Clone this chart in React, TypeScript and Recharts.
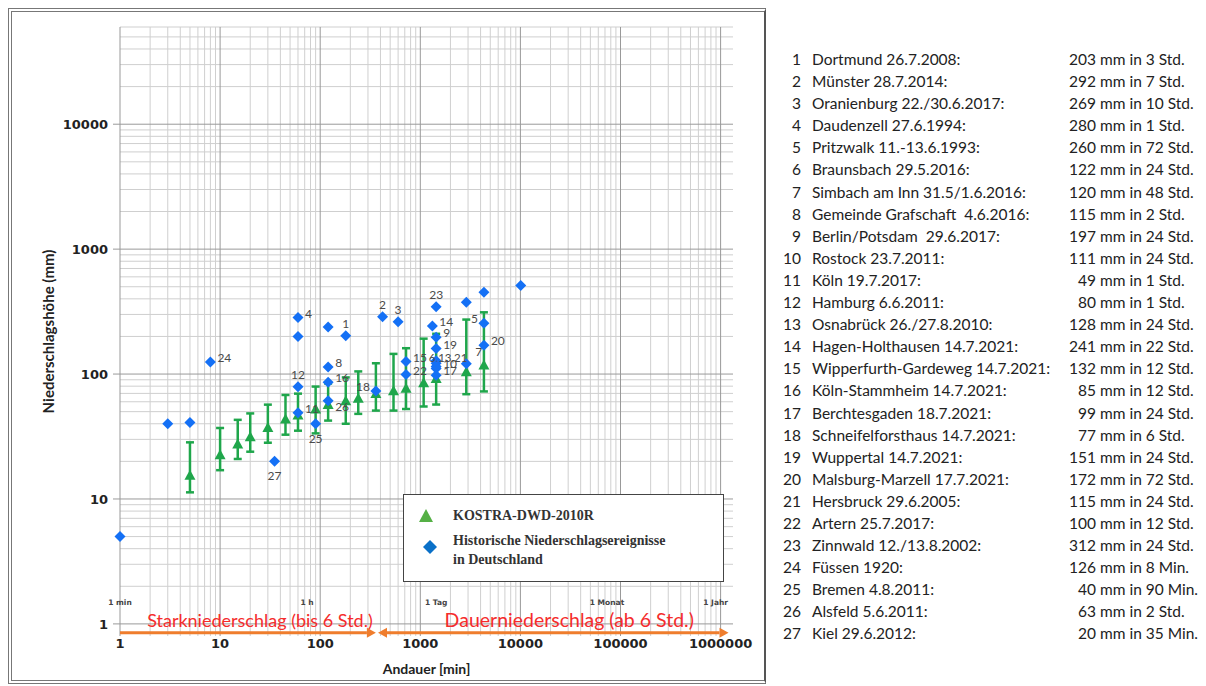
import React from "react";
import {
  ScatterChart,
  Scatter,
  XAxis,
  YAxis,
  CartesianGrid,
  ErrorBar,
  ReferenceLine,
  Legend,
} from "recharts";

// KOSTRA-DWD-2010R: Andauer (min), Niederschlagshöhe (mm) with range
const kostraDuration = [5, 10, 15, 20, 30, 45, 60, 90, 120, 180, 240, 360, 540, 720, 1080, 1440, 2880, 4320];
const kostraValue = [15.5, 22.6, 27.5, 31.5, 37.4, 43.7, 47, 52.5, 57, 61, 64, 70, 73.6, 77, 85, 92, 104.5, 118];
const kostraLow = [11.3, 17, 20.9, 23.9, 28.2, 32.7, 35.2, 33.5, 42.4, 40, 48, 51, 51, 52.5, 55, 57, 69, 72.6];
const kostraHigh = [28.4, 37, 43, 48.4, 56.9, 68, 69.7, 79.4, 84, 94, 105, 122, 145, 161, 192, 210, 273, 312];

// historic events as plotted (numbered 1..27)
const eventNo = [1, 2, 3, 4, 5, 6, 7, 8, 9, 10, 11, 12, 13, 14, 15, 16, 17, 18, 19, 20, 21, 22, 23, 24, 25, 26, 27];
const eventDuration = [180, 420, 600, 60, 4320, 1440, 2880, 120, 1440, 1440, 60, 60, 1440, 1320, 720, 120, 1440, 360, 1440, 4320, 1440, 720, 1440, 8, 90, 120, 35];
const eventValue = [203, 288, 262, 283, 255, 122, 121, 114, 197, 111, 49, 79, 128, 243, 126, 86, 98, 73, 160, 170, 115, 99, 345, 125, 40, 61, 20];

// unnumbered diamonds
const extraDuration = [1, 3, 5, 60, 120, 2880, 4320, 10080];
const extraValue = [5, 40, 41, 200, 238, 376, 452, 511];

// list on the right
const listName = [
  "Dortmund 26.7.2008:",
  "Münster 28.7.2014:",
  "Oranienburg 22./30.6.2017:",
  "Daudenzell 27.6.1994:",
  "Pritzwalk 11.-13.6.1993:",
  "Braunsbach 29.5.2016:",
  "Simbach am Inn 31.5/1.6.2016:",
  "Gemeinde Grafschaft  4.6.2016:",
  "Berlin/Potsdam  29.6.2017:",
  "Rostock 23.7.2011:",
  "Köln 19.7.2017:",
  "Hamburg 6.6.2011:",
  "Osnabrück 26./27.8.2010:",
  "Hagen-Holthausen 14.7.2021:",
  "Wipperfurth-Gardeweg 14.7.2021:",
  "Köln-Stammheim 14.7.2021:",
  "Berchtesgaden 18.7.2021:",
  "Schneifelforsthaus 14.7.2021:",
  "Wuppertal 14.7.2021:",
  "Malsburg-Marzell 17.7.2021:",
  "Hersbruck 29.6.2005:",
  "Artern 25.7.2017:",
  "Zinnwald 12./13.8.2002:",
  "Füssen 1920:",
  "Bremen 4.8.2011:",
  "Alsfeld 5.6.2011:",
  "Kiel 29.6.2012:",
];
const listAmount = [203, 292, 269, 280, 260, 122, 120, 115, 197, 111, 49, 80, 128, 241, 132, 85, 99, 77, 151, 172, 115, 100, 312, 126, 40, 63, 20];
const listSpan = [
  "3 Std.", "7 Std.", "10 Std.", "1 Std.", "72 Std.", "24 Std.", "48 Std.", "2 Std.", "24 Std.",
  "24 Std.", "1 Std.", "1 Std.", "24 Std.", "22 Std.", "12 Std.", "12 Std.", "24 Std.", "6 Std.",
  "24 Std.", "72 Std.", "24 Std.", "12 Std.", "24 Std.", "8 Min.", "90 Min.", "2 Std.", "35 Min.",
];

const xTicks = [1, 10, 100, 1000, 10000, 100000, 1000000];
const yTicks = [1, 10, 100, 1000, 10000];
const timeMarkDuration = [1, 60, 1440, 43200, 525600];
const timeMarkLabel = ["1 min", "1 h", "1 Tag", "1 Monat", "1 Jahr"];
const timeMarkShift = [0, 9, 0, 23, 23];

const GREEN = "#1fa64b";
const BLUE = "#1470f5";
const ORANGE = "#ef7d2d";
const RED = "#f52c2c";
const SANS = "Lato, 'Liberation Sans', sans-serif";
const BOLD_AXIS = "'DejaVu Sans', sans-serif";

// minor log grid (2..9 of every decade)
const minorValues = (from: number, to: number) => {
  const out: number[] = [];
  for (let e = from; e <= to; e++) {
    for (let m = 2; m <= 9; m++) out.push(m * Math.pow(10, e));
  }
  return out;
};
const xMinor = minorValues(0, 5).filter((v) => v < 1330000);
const yMinor = minorValues(0, 4).filter((v) => v <= 60000);

const kostraData = kostraDuration.map((d, i) => ({
  d,
  v: kostraValue[i],
  err: [kostraValue[i] - kostraLow[i], kostraHigh[i] - kostraValue[i]],
}));
const eventData = eventNo.map((n, i) => ({ d: eventDuration[i], v: eventValue[i], n }));
const extraData = extraDuration.map((d, i) => ({ d, v: extraValue[i], n: 0 }));
const timeMarkData = timeMarkDuration.map((d, i) => ({ d, v: 1.42, text: timeMarkLabel[i], shift: timeMarkShift[i] }));

// where the number sits relative to its diamond
const labelSide: Record<number, string> = {
  1: "top", 2: "top", 3: "top", 12: "top", 23: "top",
  25: "bottom", 27: "bottom",
  5: "left", 18: "left",
  26: "lowright", 7: "upright",
  6: "none", 21: "none", 13: "merged",
};

function Triangle(props: any) {
  const { cx, cy } = props;
  return (
    <polygon
      points={`${cx},${cy - 5.5} ${cx + 5.5},${cy + 4.5} ${cx - 5.5},${cy + 4.5}`}
      fill={GREEN}
    />
  );
}

function Diamond(props: any) {
  const { cx, cy, payload } = props;
  const r = 5.5;
  const n = payload.n;
  let label: React.ReactNode = null;
  if (n) {
    const side = labelSide[n] || "right";
    const common = { fontSize: 12, fill: "#4a4a4a", fontFamily: SANS };
    if (side === "top") label = <text x={cx} y={cy - 8} textAnchor="middle" {...common}>{n}</text>;
    else if (side === "bottom") label = <text x={cx} y={cy + 19} textAnchor="middle" {...common}>{n}</text>;
    else if (side === "left") label = <text x={cx - 6} y={cy} textAnchor="end" {...common}>{n}</text>;
    else if (side === "lowright") label = <text x={cx + 7} y={cy + 10} {...common}>{n}</text>;
    else if (side === "upright") label = <text x={cx + 9} y={cy - 8} {...common}>{n}</text>;
    else if (side === "merged")
      label = (
        <text x={cx + 12} y={cy + 1} textAnchor="middle" {...common} fontSize={11.5}>
          6,13,21
        </text>
      );
    else if (side === "right") label = <text x={cx + 7} y={cy} {...common}>{n}</text>;
  }
  return (
    <g>
      <polygon points={`${cx},${cy - r} ${cx + r},${cy} ${cx},${cy + r} ${cx - r},${cy}`} fill={BLUE} />
      {label}
    </g>
  );
}

function TimeMark(props: any) {
  const { cx, cy, payload } = props;
  return (
    <text x={cx + payload.shift} y={cy} textAnchor="middle" fontSize={7.5} fontWeight="bold" fill="#444" fontFamily={BOLD_AXIS}>
      {payload.text}
    </text>
  );
}

function arrowShape(text: string, textDx: number, headLeft: boolean, fontSize: number) {
  return (p: any) => {
    const { x1, x2, y1 } = p;
    const h = 9;
    const w = 5;
    const left = headLeft ? x1 + h : x1;
    return (
      <g>
        <line x1={left} y1={y1} x2={x2 - h} y2={y1} stroke={ORANGE} strokeWidth={3} />
        <polygon points={`${x2},${y1} ${x2 - h},${y1 - w} ${x2 - h},${y1 + w}`} fill={ORANGE} />
        {headLeft && <polygon points={`${x1},${y1} ${x1 + h},${y1 - w} ${x1 + h},${y1 + w}`} fill={ORANGE} />}
        <text
          x={(x1 + x2) / 2 + textDx}
          y={y1 - 6}
          textAnchor="middle"
          fontSize={fontSize}
          fill={RED}
          fontFamily={SANS}
        >
          {text}
        </text>
      </g>
    );
  };
}

function LegendBox() {
  const txt: React.CSSProperties = {
    fontFamily: "'Liberation Serif', serif",
    fontWeight: 700,
    fontSize: 14,
    color: "#333",
    lineHeight: "19px",
  };
  return (
    <div
      style={{
        width: 321,
        height: 88,
        border: "1.5px solid #444",
        background: "#fff",
        boxSizing: "border-box",
        position: "relative",
      }}
    >
      <svg width={40} height={80} style={{ position: "absolute", left: 0, top: 0 }}>
        <polygon points="22,14 29,27 15,27" fill="#55b046" />
        <polygon points="26,45 33,52 26,59 19,52" fill="#0a70c8" />
      </svg>
      <div style={{ ...txt, position: "absolute", left: 49, top: 11 }}>KOSTRA-DWD-2010R</div>
      <div style={{ ...txt, position: "absolute", left: 49, top: 36 }}>
        Historische Niederschlagsereignisse
        <br />
        in Deutschland
      </div>
    </div>
  );
}

export default function App() {
  return (
    <div
      style={{
        position: "absolute",
        left: 0,
        top: 0,
        width: 1206,
        height: 686,
        background: "#fff",
        overflow: "hidden",
      }}
    >
      {/* frame round the chart */}
      <div
        style={{
          position: "absolute",
          left: 8,
          top: 8,
          width: 758,
          height: 676,
          borderLeft: "4px double #777",
          borderTop: "4px double #777",
          borderBottom: "4px double #777",
          borderRight: "2px solid #555",
          boxSizing: "border-box",
        }}
      />
      <div style={{ position: "absolute", left: 0, top: 0 }}>
        <ScatterChart
          width={765}
          height={686}
          margin={{ top: 27, right: 32, bottom: 0, left: 0 }}
          style={{ fontFamily: SANS }}
        >
          <CartesianGrid stroke="#cfcfcf" horizontalValues={yMinor} verticalValues={xMinor} />
          <CartesianGrid stroke="#999" horizontalValues={yTicks} verticalValues={xTicks} />
          <XAxis
            type="number"
            dataKey="d"
            scale="log"
            domain={[1, 1330000]}
            ticks={xTicks}
            interval={0}
            tickFormatter={(v) => String(v)}
            axisLine={false}
            tickLine={false}
            tickSize={0}
            tickMargin={3}
            height={50}
            tick={{ fontSize: 13, fontWeight: "bold", fill: "#222", fontFamily: BOLD_AXIS }}
            label={{
              value: "Andauer [min]",
              position: "insideBottom",
              offset: 12,
              style: { fontSize: 14, fontWeight: 700, fill: "#222", fontFamily: SANS },
            }}
          />
          <YAxis
            type="number"
            dataKey="v"
            scale="log"
            domain={[0.8, 60000]}
            ticks={yTicks}
            interval={0}
            width={120}
            axisLine={false}
            tickLine={{ stroke: "#999" }}
            tickSize={7}
            tickMargin={5}
            tick={{ fontSize: 13, fontWeight: "bold", fill: "#222", fontFamily: BOLD_AXIS }}
            label={{
              value: "Niederschlagshöhe (mm)",
              angle: -90,
              position: "insideLeft",
              offset: 49,
              style: { textAnchor: "middle", fontSize: 15, fontWeight: 700, fill: "#222", fontFamily: SANS },
            }}
          />
          <ReferenceLine
            segment={[{ x: 1, y: 0.85 }, { x: 360, y: 0.85 }]}
            shape={arrowShape("Starkniederschlag (bis 6 Std.)", 12, false, 18)}
          />
          <ReferenceLine
            segment={[{ x: 378, y: 0.85 }, { x: 1200000, y: 0.85 }]}
            shape={arrowShape("Dauerniederschlag (ab 6 Std.)", 16, true, 19.5)}
          />
          <Scatter data={timeMarkData} shape={TimeMark} isAnimationActive={false} legendType="none" />
          <Scatter name="KOSTRA-DWD-2010R" data={kostraData} shape={Triangle} isAnimationActive={false}>
            <ErrorBar dataKey="err" direction="y" width={4} strokeWidth={2.5} stroke={GREEN} />
          </Scatter>
          <Scatter
            name="Historische Niederschlagsereignisse in Deutschland"
            data={[...extraData, ...eventData]}
            shape={Diamond}
            isAnimationActive={false}
          />
          <Legend
            layout="vertical"
            align="center"
            verticalAlign="middle"
            content={() => <LegendBox />}
            wrapperStyle={{ left: 403, top: 494, width: 321, height: 88 }}
          />
        </ScatterChart>
      </div>

      {/* numbered list of events */}
      <div
        style={{
          position: "absolute",
          left: 770,
          top: 48,
          fontFamily: SANS,
          fontSize: 15.5,
          color: "#222",
        }}
      >
        {listName.map((name, i) => (
          <div key={i} style={{ position: "relative", height: 22.1, lineHeight: "22px", whiteSpace: "pre" }}>
            <span style={{ position: "absolute", left: 0, width: 31, textAlign: "right" }}>{eventNo[i]}</span>
            <span style={{ position: "absolute", left: 42 }}>{name}</span>
            <span style={{ position: "absolute", left: 270, width: 56, textAlign: "right" }}>{listAmount[i]}</span>
            <span style={{ position: "absolute", left: 326 }}>{" mm in " + listSpan[i]}</span>
          </div>
        ))}
      </div>
    </div>
  );
}
